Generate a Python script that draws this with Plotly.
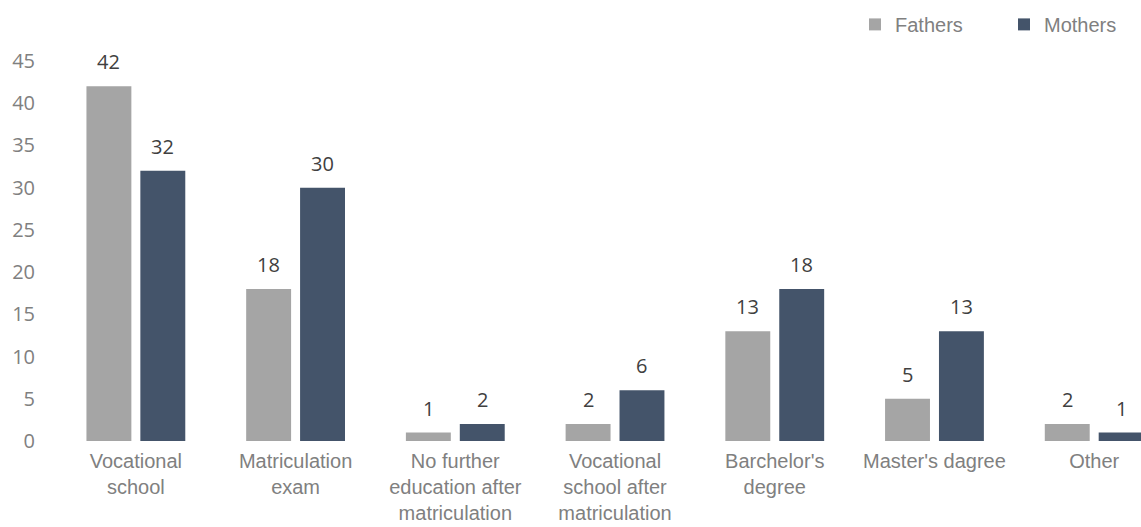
import plotly.graph_objects as go

# Highest completed education of the parents
categories = [
    "Vocational<br>school",
    "Matriculation<br>exam",
    "No further<br>education after<br>matriculation",
    "Vocational<br>school after<br>matriculation",
    "Barchelor's<br>degree",
    "Master's dagree",
    "Other",
]
fathers = [42, 18, 1, 2, 13, 5, 2]
mothers = [32, 30, 2, 6, 18, 13, 1]
y_ticks = [0, 5, 10, 15, 20, 25, 30, 35, 40, 45]

FATHER_COLOR = "#a5a5a5"
MOTHER_COLOR = "#44546a"
BAR_GAP = 0.325
GROUP_GAP = 0.1667

fig = go.Figure()
fig.add_trace(go.Bar(name="Fathers", x=categories, y=fathers,
                     marker=dict(color=FATHER_COLOR, line=dict(width=0))))
fig.add_trace(go.Bar(name="Mothers", x=categories, y=mothers,
                     marker=dict(color=MOTHER_COLOR, line=dict(width=0))))

# value labels centred over each bar of the group
slot = (1 - BAR_GAP) / 2
annotations = []
for series, sign in ((fathers, -1), (mothers, 1)):
    for i, v in enumerate(series):
        annotations.append(dict(
            x=i + sign * slot / 2, y=v, xref="x", yref="y",
            text=str(v), showarrow=False, yanchor="bottom", yshift=9,
            font=dict(family="Open Sans", size=20, color="#404040"),
        ))

fig.update_layout(
    width=1141, height=527,
    margin=dict(l=56, r=0, t=61, b=86, autoexpand=False),
    paper_bgcolor="white", plot_bgcolor="white",
    barmode="group", bargap=BAR_GAP, bargroupgap=GROUP_GAP,
    annotations=annotations,
    legend=dict(orientation="h", x=0.7364, xanchor="left", y=1.045, yanchor="bottom",
                font=dict(family="Liberation Sans, Arial", size=20, color="#808080"),
                itemwidth=30, entrywidth=104, traceorder="normal"),
    xaxis=dict(range=[-0.5, 6.293], showgrid=False, showline=False, zeroline=False,
               ticks="", tickangle=0, ticklabelstandoff=6,
               tickfont=dict(family="Liberation Sans, Arial", size=20, color="#808080")),
    yaxis=dict(range=[0, 45], tickvals=y_ticks, showgrid=False, showline=False,
               zeroline=False, ticks="", ticklabelstandoff=20,
               tickfont=dict(family="Open Sans", size=20, color="#808080")),
)

fig.write_html("out.html")
